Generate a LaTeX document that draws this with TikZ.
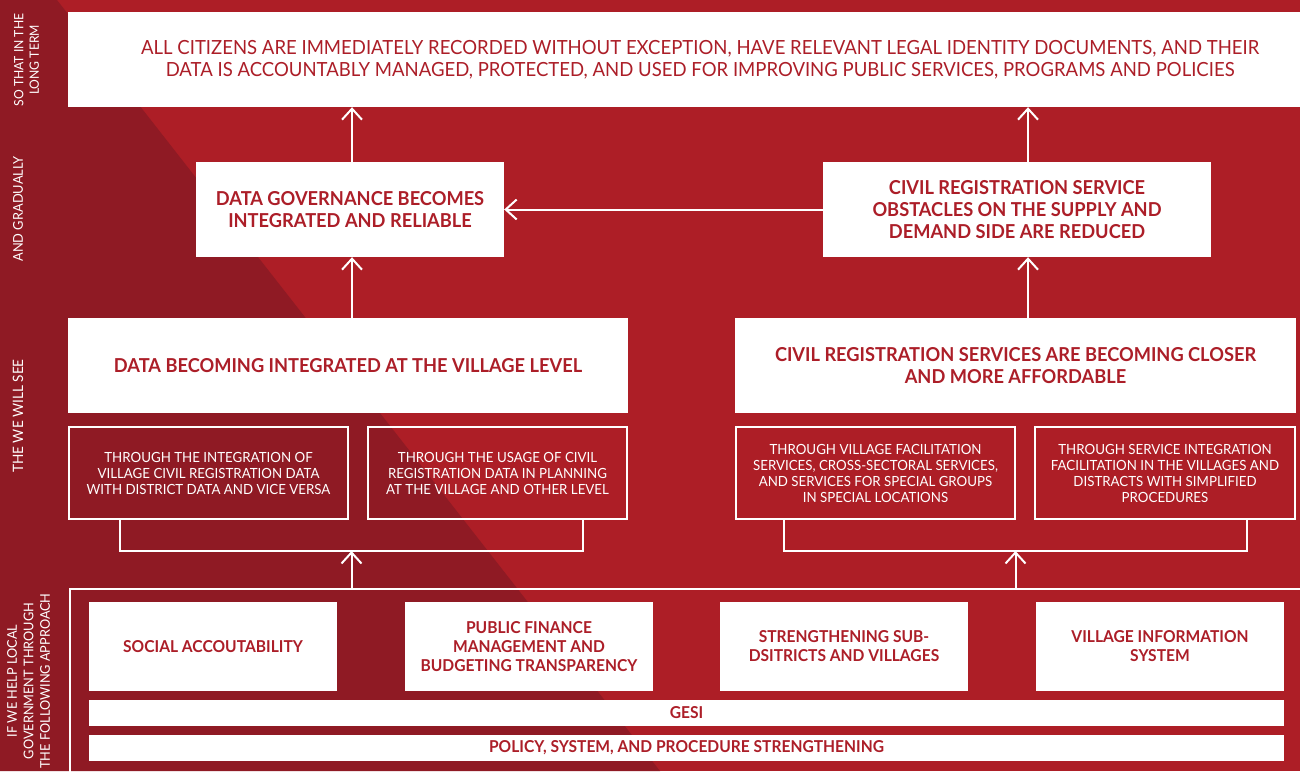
\documentclass[tikz,border=0pt]{standalone}
\usepackage{fontspec}
\setmainfont{Lato}[FakeStretch=0.95]
\usetikzlibrary{arrows.meta}

\definecolor{redlight}{RGB}{173,30,38}
\definecolor{reddark}{RGB}{143,26,36}
\definecolor{redtext}{RGB}{172,30,40}

\tikzset{
  whitebox/.style={fill=white, draw=none, inner sep=0pt, text=redtext, align=center,
    font=\bfseries\fontsize{19.2}{22}\selectfont},
  approachbox/.style={whitebox, font=\bfseries\fontsize{16.4}{19}\selectfont},
  outlinebox/.style={draw=white, line width=2pt, inner sep=0pt, text=white, align=center,
    font=\fontsize{14}{16}\selectfont},
  wline/.style={draw=white, line width=2pt},
  warrow/.style={wline, -{Straight Barb[length=11pt,width=20pt]}},
  sidelabel/.style={rotate=90, text=white, align=center, inner sep=0pt},
}

\begin{document}
\begin{tikzpicture}[x=1pt,y=-1pt]
\useasboundingbox (0,0) rectangle (1300,771);
\clip (0,0) rectangle (1300,771);

% background with the darker diagonal band
\fill[redlight] (0,0) rectangle (1300,771);
\fill[reddark] (0,0) -- (57,0) -- (660,771) -- (0,771) -- cycle;

% row labels
\node[sidelabel, font=\fontsize{12.8}{15.5}\selectfont] (lblterm) at (26.5,60) {SO THAT IN THE\\LONG TERM};
\node[sidelabel, font=\fontsize{13.5}{16}\selectfont] (lblgrad) at (18,209) {AND GRADUALLY};
\node[sidelabel, font=\fontsize{14.3}{16}\selectfont] (lblsee) at (18,416) {THE WE WILL SEE};
\node[sidelabel, font=\fontsize{13.4}{16.5}\selectfont] (lblif) at (28.5,681) {IF WE HELP LOCAL\\GOVERNMENT THROUGH\\THE FOLLOWING APPROACH};

% long-term goal
\node[whitebox, font=\fontsize{19.5}{22}\selectfont, minimum width=1264pt, minimum height=95pt] (goal) at (700,59.5)
  {ALL CITIZENS ARE IMMEDIATELY RECORDED WITHOUT EXCEPTION, HAVE RELEVANT LEGAL IDENTITY DOCUMENTS, AND THEIR\\DATA IS ACCOUNTABLY MANAGED, PROTECTED, AND USED FOR IMPROVING PUBLIC SERVICES, PROGRAMS AND POLICIES};

% intermediate outcomes
\node[whitebox, minimum width=308pt, minimum height=95pt] (gov) at (350,209.5)
  {DATA GOVERNANCE BECOMES\\INTEGRATED AND RELIABLE};
\node[whitebox, minimum width=388pt, minimum height=95pt] (obst) at (1017,209.5)
  {CIVIL REGISTRATION SERVICE\\OBSTACLES ON THE SUPPLY AND\\DEMAND SIDE ARE REDUCED};

% early changes
\node[whitebox, minimum width=560pt, minimum height=95pt] (village) at (348,365.5)
  {DATA BECOMING INTEGRATED AT THE VILLAGE LEVEL};
\node[whitebox, minimum width=561pt, minimum height=95pt] (closer) at (1015.5,365.5)
  {CIVIL REGISTRATION SERVICES ARE BECOMING CLOSER\\AND MORE AFFORDABLE};

% pathways
\node[outlinebox, minimum width=279pt, minimum height=92pt] (integ) at (208.5,473)
  {THROUGH THE INTEGRATION OF\\VILLAGE CIVIL REGISTRATION DATA\\WITH DISTRICT DATA AND VICE VERSA};
\node[outlinebox, minimum width=259pt, minimum height=92pt] (usage) at (497.5,473)
  {THROUGH THE USAGE OF CIVIL\\REGISTRATION DATA IN PLANNING\\AT THE VILLAGE AND OTHER LEVEL};
\node[outlinebox, minimum width=279pt, minimum height=92pt] (facil) at (875.5,473)
  {THROUGH VILLAGE FACILITATION\\SERVICES, CROSS-SECTORAL SERVICES,\\AND SERVICES FOR SPECIAL GROUPS\\IN SPECIAL LOCATIONS};
\node[outlinebox, minimum width=260pt, minimum height=92pt] (servint) at (1165,473)
  {THROUGH SERVICE INTEGRATION\\FACILITATION IN THE VILLAGES AND\\DISTRACTS WITH SIMPLIFIED\\PROCEDURES};

% approach frame and its components
\node[draw=white, line width=2pt, inner sep=0pt, minimum width=1300pt, minimum height=250pt, anchor=north west] (approach) at (69,588) {};
\node[approachbox, minimum width=248pt, minimum height=89pt] (social) at (213,646.5) {SOCIAL ACCOUTABILITY};
\node[approachbox, minimum width=248pt, minimum height=89pt] (finance) at (529,646.5) {PUBLIC FINANCE\\MANAGEMENT AND\\BUDGETING TRANSPARENCY};
\node[approachbox, minimum width=248pt, minimum height=89pt] (subdist) at (844,646.5) {STRENGTHENING SUB-\\DSITRICTS AND VILLAGES};
\node[approachbox, minimum width=248pt, minimum height=89pt] (infosys) at (1160,646.5) {VILLAGE INFORMATION\\SYSTEM};
\node[approachbox, minimum width=1195pt, minimum height=26pt] (gesi) at (686.5,713) {GESI};
\node[approachbox, minimum width=1195pt, minimum height=26pt] (policy) at (686.5,748) {POLICY, SYSTEM, AND PROCEDURE STRENGTHENING};

% brackets joining the pathways
\coordinate (jL) at (351.5,551);
\coordinate (jR) at (1015.5,551);
\draw[wline] ([xshift=-88.5pt]integ.south) |- (jL) -| ([xshift=85.5pt]usage.south);
\draw[wline] ([xshift=-91.5pt]facil.south) |- (jR) -| ([xshift=82pt]servint.south);

% arrows
\draw[warrow] (approach.north -| jL) -- (jL);
\draw[warrow] (approach.north -| jR) -- (jR);

\coordinate (aL1) at ([xshift=4pt]village.north);
\coordinate (aL2) at ([xshift=2pt]gov.north);
\coordinate (aR1) at ([xshift=12.5pt]closer.north);
\coordinate (aR2) at ([xshift=11pt]obst.north);
\draw[warrow] (aL1) -- (aL1 |- gov.south);
\draw[warrow] (aL2) -- (aL2 |- goal.south);
\draw[warrow] (aR1) -- (aR1 |- obst.south);
\draw[warrow] (aR2) -- (aR2 |- goal.south);
\draw[warrow] (obst.west) -- (gov.east);
\end{tikzpicture}
\end{document}
